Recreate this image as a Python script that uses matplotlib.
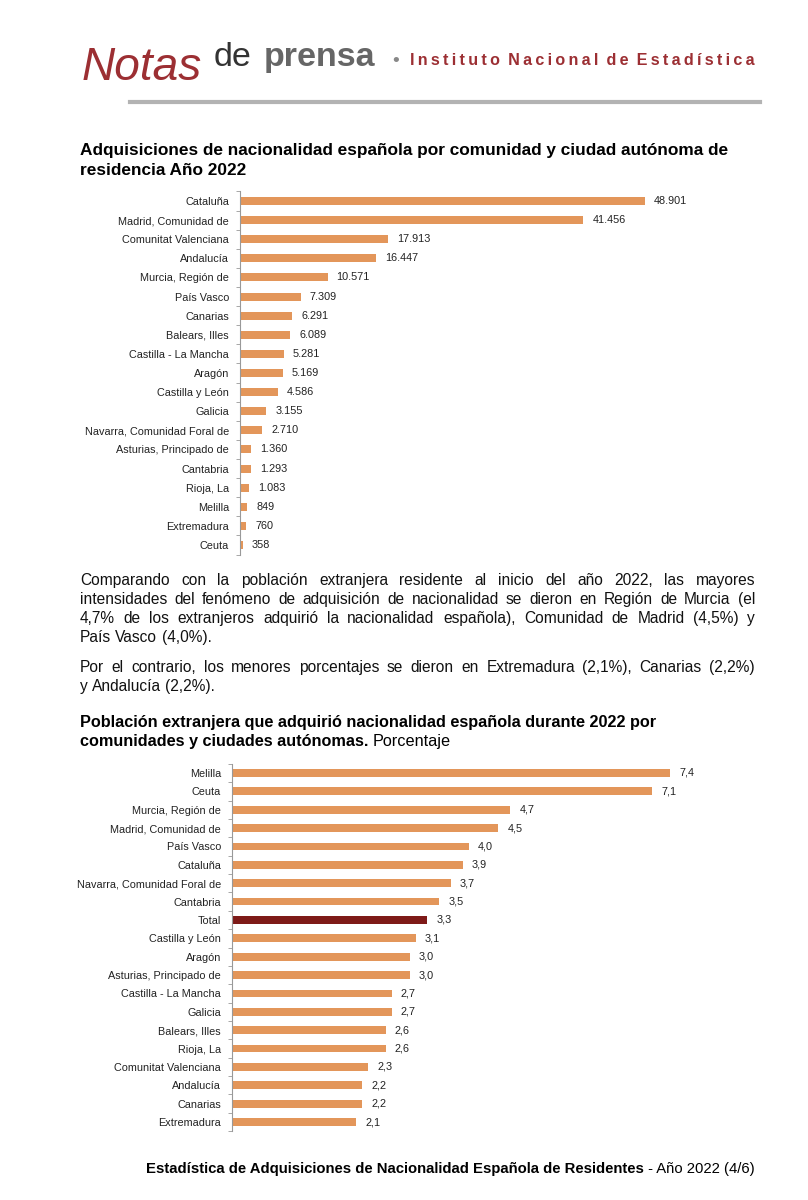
import matplotlib
matplotlib.use('Agg')
import matplotlib.pyplot as plt
from matplotlib.lines import Line2D

W, H = 808, 1200
SANS = ['Liberation Sans', 'DejaVu Sans']
plt.rcParams['font.family'] = SANS

ORANGE = '#E3965A'
DARKRED = '#7E1A18'
INE_RED = '#9C2F33'

# chart 1 data
regions1 = ['Cataluña', 'Madrid, Comunidad de', 'Comunitat Valenciana', 'Andalucía',
            'Murcia, Región de', 'País Vasco', 'Canarias', 'Balears, Illes',
            'Castilla - La Mancha', 'Aragón', 'Castilla y León', 'Galicia',
            'Navarra, Comunidad Foral de', 'Asturias, Principado de', 'Cantabria',
            'Rioja, La', 'Melilla', 'Extremadura', 'Ceuta']
values1 = [48901, 41456, 17913, 16447, 10571, 7309, 6291, 6089, 5281, 5169,
           4586, 3155, 2710, 1360, 1293, 1083, 849, 760, 358]

# chart 2 data
regions2 = ['Melilla', 'Ceuta', 'Murcia, Región de', 'Madrid, Comunidad de', 'País Vasco',
            'Cataluña', 'Navarra, Comunidad Foral de', 'Cantabria', 'Total',
            'Castilla y León', 'Aragón', 'Asturias, Principado de', 'Castilla - La Mancha',
            'Galicia', 'Balears, Illes', 'Rioja, La', 'Comunitat Valenciana', 'Andalucía',
            'Canarias', 'Extremadura']
values2 = [7.4, 7.1, 4.7, 4.5, 4.0, 3.9, 3.7, 3.5, 3.3, 3.1, 3.0, 3.0, 2.7, 2.7,
           2.6, 2.6, 2.3, 2.2, 2.2, 2.1]

para1 = ["Comparando con la población extranjera residente al inicio del año 2022, las mayores",
         "intensidades del fenómeno de adquisición de nacionalidad se dieron en Región de Murcia (el",
         "4,7% de los extranjeros adquirió la nacionalidad española), Comunidad de Madrid (4,5%) y",
         "País Vasco (4,0%)."]
para2 = ["Por el contrario, los menores porcentajes se dieron en Extremadura (2,1%), Canarias (2,2%)",
         "y Andalucía (2,2%)."]

fig = plt.figure(figsize=(W / 100, H / 100), dpi=100)
renderer = fig.canvas.get_renderer()


def px(x, y):
    return x / W, 1 - y / H


def rect(left, top, right, bottom):
    return [left / W, 1 - bottom / H, (right - left) / W, (bottom - top) / H]


def width_of(t):
    return t.get_window_extent(renderer).width


def fit(t, target):
    # shrink/grow the font so the text spans the target width in pixels
    t.set_fontsize(t.get_fontsize() * target / width_of(t))
    return t


# header
fit(fig.text(*px(82, 80), 'Notas', fontsize=40, color=INE_RED,
             style='italic', va='baseline'), 120)
fig.text(*px(214, 66), 'de', fontsize=24.5, color='#333333', va='baseline')
fig.text(*px(264, 66), 'prensa', fontsize=24.5, color='#666666', fontweight='bold', va='baseline')
fig.text(*px(392, 66), '•', fontsize=14, color='#888888', va='baseline')
inst = 'Instituto Nacional de Estadística'
inst = '\u2009'.join(inst).replace('\u2009 \u2009', '\u2002')
fit(fig.text(*px(755, 65), inst, fontsize=14, color=INE_RED, fontweight='bold',
             ha='right', va='baseline'), 343)
fig.add_artist(Line2D([130 / W, 760 / W], [1 - 102 / H] * 2, color='#b3b3b3', lw=3))

# titles
fig.text(*px(80, 155), 'Adquisiciones de nacionalidad española por comunidad y ciudad autónoma de',
         fontsize=12.4, fontweight='bold', va='baseline')
fig.text(*px(80, 175), 'residencia Año 2022', fontsize=12.4, fontweight='bold', va='baseline')

fig.text(*px(80, 727), 'Población extranjera que adquirió nacionalidad española durante 2022 por',
         fontsize=11.7, fontweight='bold', va='baseline')
t = fig.text(*px(80, 746), 'comunidades y ciudades autónomas.', fontsize=11.7,
             fontweight='bold', va='baseline')
fig.text(*px(80 + width_of(t) + 4, 746), 'Porcentaje', fontsize=11.7, va='baseline')


def bar_chart(ax, labels, values, colors, fmt, xmax):
    n = len(labels)
    pos = list(range(n))
    ax.barh(pos, values, height=0.42, color=colors)
    ax.set_ylim(n - 0.5, -0.5)
    ax.set_xlim(0, xmax)
    ax.set_yticks(pos)
    ax.set_yticklabels(labels, fontsize=7.8, color='#222222')
    ax.set_yticks([i + 0.5 for i in range(-1, n)], minor=True)
    ax.tick_params(axis='y', which='major', length=0, pad=8)
    ax.tick_params(axis='y', which='minor', length=3, color='#999999', direction='out')
    ax.set_xticks([])
    for s in ['top', 'right', 'bottom']:
        ax.spines[s].set_visible(False)
    ax.spines['left'].set_color('#999999')
    ax.spines['left'].set_linewidth(0.8)
    for p, v in zip(pos, values):
        ax.annotate(fmt(v), (v, p), xytext=(6.5, 0), textcoords='offset points',
                    va='center', ha='left', fontsize=7.8, color='#222222')
    ax.patch.set_visible(False)


ax1 = fig.add_axes(rect(240, 191.4, 740, 554.6))
bar_chart(ax1, regions1, values1, [ORANGE] * len(values1),
          lambda v: f'{v:,}'.replace(',', '.'), 48901 * 500 / 405)

ax2 = fig.add_axes(rect(232, 763.8, 740, 1131.2))
colors2 = [DARKRED if r == 'Total' else ORANGE for r in regions2]
bar_chart(ax2, regions2, values2, colors2,
          lambda v: f'{v:.1f}'.replace('.', ','), 508 / 59.2)


# justified paragraphs
def paragraph(lines, y0, step=19, left=80, right=755, size=11.2):
    space_w = width_of(fig.text(0, 0, 'a a', fontsize=size, alpha=0)) - \
        width_of(fig.text(0, 0, 'aa', fontsize=size, alpha=0))
    for k, line in enumerate(lines):
        y = y0 + k * step
        words = line.split(' ')
        texts = [fig.text(0, 1 - y / H, w, fontsize=size, va='baseline', color='#111111')
                 for w in words]
        widths = [width_of(tt) for tt in texts]
        if k == len(lines) - 1:
            space = space_w
        else:
            space = (right - left - sum(widths)) / (len(words) - 1)
        x = left
        for tt, wd in zip(texts, widths):
            tt.set_x(x / W)
            x += wd + space


paragraph(para1, 585)
paragraph(para2, 672)

# footer
tn = fig.text(*px(755, 1173), ' - Año 2022 (4/6)', fontsize=10.7,
              ha='right', va='baseline')
fig.text(*px(755 - width_of(tn), 1173),
         'Estadística de Adquisiciones de Nacionalidad Española de Residentes',
         fontsize=10.7, fontweight='bold', ha='right', va='baseline')

fig.savefig('out.png', dpi=100)
